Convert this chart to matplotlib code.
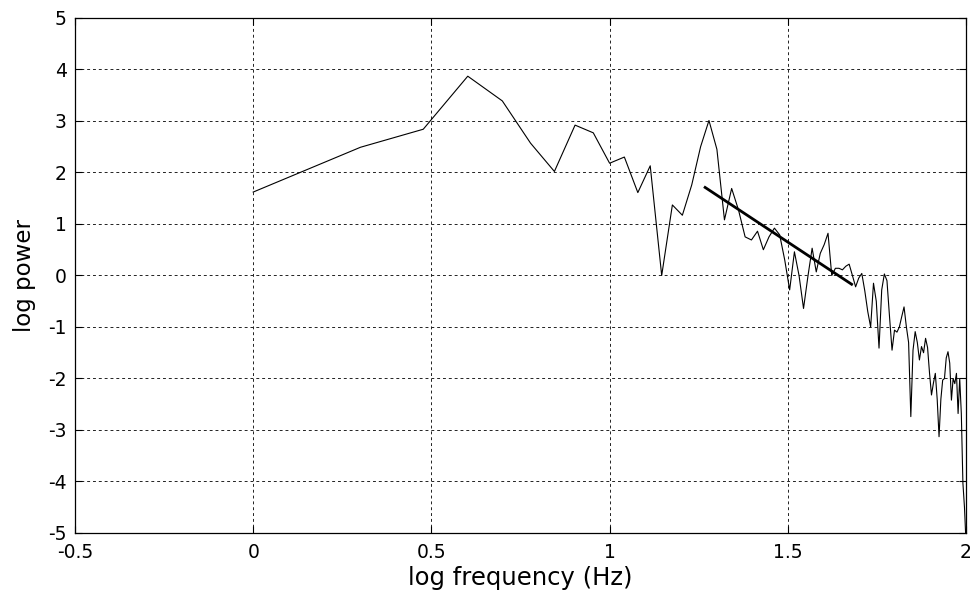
import numpy as np
import matplotlib
matplotlib.use("Agg")
import matplotlib.pyplot as plt

plt.rcParams['font.family'] = ['DejaVu Sans']
plt.rcParams['axes.unicode_minus'] = False

# frequencies 1..100 Hz, log10 power
freqs = np.arange(1, 101)
log_power = [
    1.62, 2.49, 2.84, 3.87, 3.39, 2.57, 2.02, 2.92, 2.77, 2.18,    # 1-10
    2.30, 1.61, 2.13, 0.00, 1.37, 1.17, 1.76, 2.50, 3.01, 2.45,    # 11-20
    1.08, 1.69, 1.27, 0.75, 0.69, 0.86, 0.50, 0.75, 0.92, 0.79,    # 21-30
    0.30, -0.28, 0.46, 0.00, -0.64, -0.02, 0.53, 0.07, 0.43, 0.60,  # 31-40
    0.82, 0.00, 0.14, 0.14, 0.11, 0.18, 0.22, 0.00, -0.22, -0.05,  # 41-50
    0.04, -0.30, -0.70, -1.00, -0.15, -0.50, -1.41, -0.28, 0.03, -0.10,  # 51-60
    -0.80, -1.45, -1.06, -1.10, -1.00, -0.80, -0.61, -0.99, -1.30, -2.74,  # 61-70
    -1.45, -1.09, -1.30, -1.64, -1.38, -1.50, -1.22, -1.40, -1.90, -2.32,  # 71-80
    -2.09, -1.90, -2.40, -3.13, -2.40, -2.03, -2.00, -1.60, -1.48, -1.70,  # 81-90
    -2.42, -2.00, -2.10, -1.90, -2.68, -2.00, -2.68, -4.03, -4.50, -5.20,  # 91-100
]

# fitted slope line (end points)
fit_x = [1.268, 1.679]
fit_y = [1.71, -0.17]

log_f = np.log10(freqs)

fig = plt.figure(figsize=(9.75, 5.94), dpi=100)
ax = fig.add_axes([0.0769, 0.1027, 0.9139, 0.867])

ax.plot(log_f, log_power, color='black', linewidth=0.8)
ax.plot(fit_x, fit_y, color='black', linewidth=2.0)

ax.set_xlim(-0.5, 2)
ax.set_ylim(-5, 5)
ax.set_xticks([-0.5, 0, 0.5, 1, 1.5, 2])
ax.set_xticklabels(['-0.5', '0', '0.5', '1', '1.5', '2'])
ax.set_yticks(range(-5, 6))

ax.grid(True, color='#222222', linestyle=(0, (3, 3)), linewidth=0.7)
ax.tick_params(direction='in', top=True, right=True, labelsize=13.5, length=5)
ax.tick_params(axis='x', pad=7)
ax.tick_params(axis='y', pad=6)
for s in ax.spines.values():
    s.set_linewidth(0.9)

ax.set_xlabel('log frequency (Hz)', fontsize=17.5, labelpad=3)
ax.set_ylabel('log power', fontsize=16.5, labelpad=9)

fig.savefig('out.png', dpi=100)
